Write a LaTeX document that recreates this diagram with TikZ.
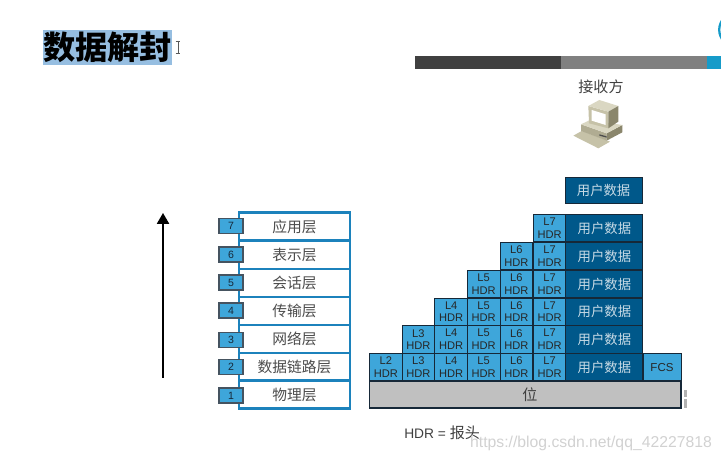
\documentclass[tikz,border=0pt]{standalone}
\usepackage{fontspec}
\usepackage{xcolor}
\usepackage{tikz}
\usetikzlibrary{arrows.meta}
\setmainfont{Liberation Sans}
\newfontfamily\cjk{Noto Sans CJK SC}
\definecolor{hdrblue}{RGB}{62,166,218}
\definecolor{datablue}{RGB}{0,88,138}
\definecolor{frameblue}{RGB}{28,130,188}
\definecolor{edgedark}{RGB}{22,40,56}
\definecolor{bitgray}{RGB}{192,192,192}
\definecolor{marklight}{RGB}{150,190,225}
\definecolor{pclight}{RGB}{218,215,194}
\definecolor{pcmid}{RGB}{198,194,168}
\definecolor{pcshade}{RGB}{176,172,146}
\definecolor{pcdark}{RGB}{138,134,108}
\tikzset{
  hdrcell/.style={draw=edgedark, fill=hdrblue, line width=0.6pt, inner sep=0pt, outer sep=0pt,
    minimum width=0.82cm, minimum height=0.69cm, align=center, text=black!85,
    font=\fontsize{7.9}{8.9}\selectfont},
  datacell/.style={draw=edgedark, fill=datablue, line width=0.6pt, inner sep=0pt, outer sep=0pt,
    minimum width=1.925cm, minimum height=0.69cm, text=white!78!datablue,
    font=\cjk\fontsize{9.5}{10}\selectfont},
  layerbox/.style={draw=frameblue, fill=white, line width=1.6pt, inner sep=0pt, outer sep=0pt,
    minimum width=2.775cm, minimum height=0.7cm, text=black!70,
    font=\cjk\fontsize{10.5}{11}\selectfont},
  numtag/.style={draw=edgedark!80, fill=hdrblue, line width=1pt, inner sep=0pt, outer sep=0pt,
    minimum width=0.6cm, minimum height=0.37cm, text=edgedark,
    font=\fontsize{7.5}{8}\selectfont},
  caption/.style={text=black!75, inner sep=0pt, font=\cjk\fontsize{10.7}{11}\selectfont}
}
\begin{document}
\begin{tikzpicture}
  \clip (0, 0) rectangle (18.025, 11.525);
  \useasboundingbox (0, 0) rectangle (18.025, 11.525);
  % Title with selection mark and cursor
  \node[fill=marklight, inner sep=0pt, minimum width=3.225cm, minimum height=0.875cm,
    font=\cjk\bfseries\fontsize{22.9}{23}\selectfont] (title) at (2.69, 10.34) {数据解封};
  \draw[black!65, line width=0.6pt] (4.45, 10.5) -- (4.45, 10.18);
  \draw[black!65, line width=0.6pt] (4.39, 10.5) -- (4.51, 10.5);
  \draw[black!65, line width=0.6pt] (4.39, 10.18) -- (4.51, 10.18);
  % Top bar
  \fill[black!75] (10.375, 9.8) rectangle (14.025, 10.125);
  \fill[black!50] (14.025, 9.8) rectangle (17.675, 10.125);
  \fill[frameblue!80!cyan] (17.675, 9.8) rectangle (18.025, 10.125);
  \draw[frameblue!80!cyan, line width=1.6pt] (18.4, 10.78) circle (0.42);
  % Receiver
  \node[caption] (receiver) at (15.025, 9.35) {接收方};
  \begin{scope}[shift={(14.125, 9.15)}, x=0.00833cm, y=-0.00833cm]
    \fill[pcmid] (25,122) -- (50,108) -- (135,140) -- (100,160) -- cycle;
    \fill[pcshade] (48,88) -- (125,115) -- (125,137) -- (48,108) -- cycle;
    \fill[pcdark] (125,115) -- (172,90) -- (172,112) -- (125,137) -- cycle;
    \fill[pclight] (48,88) -- (75,75) -- (172,90) -- (125,115) -- cycle;
    \fill[black!70] (103,118) -- (125,124) -- (125,128) -- (103,122) -- cycle;
    \fill[pcmid] (70,33) -- (130,50) -- (130,100) -- (72,85) -- cycle;
    \fill[pclight] (70,33) -- (103,15) -- (160,33) -- (130,50) -- cycle;
    \fill[pcdark] (130,50) -- (160,33) -- (160,80) -- (130,100) -- cycle;
    \fill[white] (80,45) -- (122,58) -- (122,90) -- (80,77) -- cycle;
  \end{scope}
  % Direction arrow
  \coordinate (arrowlow) at (4.075, 2.075);
  \coordinate (arrowhigh) at (4.075, 6.2);
  \draw[black, line width=1.3pt, -{Triangle[length=0.27cm, width=0.3cm]}] (arrowlow) -- (arrowhigh);
  % Layer names
  \node[layerbox] (layer7) at (7.3625, 5.86) {应用层};
  \node[layerbox] (layer6) at (7.3625, 5.15) {表示层};
  \node[layerbox] (layer5) at (7.3625, 4.45) {会话层};
  \node[layerbox] (layer4) at (7.3625, 3.75) {传输层};
  \node[layerbox] (layer3) at (7.3625, 3.05) {网络层};
  \node[layerbox] (layer2) at (7.3625, 2.35) {数据链路层};
  \node[layerbox] (layer1) at (7.3625, 1.66) {物理层};
  % Layer numbers
  \node[numtag] (num7) at (5.775, 5.875) {7};
  \node[numtag] (num6) at (5.775, 5.16) {6};
  \node[numtag] (num5) at (5.775, 4.46) {5};
  \node[numtag] (num4) at (5.775, 3.76) {4};
  \node[numtag] (num3) at (5.775, 3.025) {3};
  \node[numtag] (num2) at (5.775, 2.35) {2};
  \node[numtag] (num1) at (5.775, 1.64) {1};
  % Plain user data
  \node[datacell, minimum height=0.65cm] (data0) at (15.09, 6.775) {用户数据};
  % Row below it
  \node[hdrcell] (l7r6) at (13.74, 5.825) {L7\\HDR};
  \node[datacell] (data6) at (15.11, 5.825) {用户数据};
  % Next row
  \node[hdrcell] (l6r5) at (12.91, 5.125) {L6\\HDR};
  \node[hdrcell] (l7r5) at (13.74, 5.125) {L7\\HDR};
  \node[datacell] (data5) at (15.11, 5.125) {用户数据};
  % Next row
  \node[hdrcell] (l5r4) at (12.09, 4.425) {L5\\HDR};
  \node[hdrcell] (l6r4) at (12.91, 4.425) {L6\\HDR};
  \node[hdrcell] (l7r4) at (13.74, 4.425) {L7\\HDR};
  \node[datacell] (data4) at (15.11, 4.425) {用户数据};
  % Next row
  \node[hdrcell] (l4r3) at (11.28, 3.73) {L4\\HDR};
  \node[hdrcell] (l5r3) at (12.09, 3.73) {L5\\HDR};
  \node[hdrcell] (l6r3) at (12.91, 3.73) {L6\\HDR};
  \node[hdrcell] (l7r3) at (13.74, 3.73) {L7\\HDR};
  \node[datacell] (data3) at (15.11, 3.73) {用户数据};
  % Next row
  \node[hdrcell] (l3r2) at (10.46, 3.04) {L3\\HDR};
  \node[hdrcell] (l4r2) at (11.28, 3.04) {L4\\HDR};
  \node[hdrcell] (l5r2) at (12.09, 3.04) {L5\\HDR};
  \node[hdrcell] (l6r2) at (12.91, 3.04) {L6\\HDR};
  \node[hdrcell] (l7r2) at (13.74, 3.04) {L7\\HDR};
  \node[datacell] (data2) at (15.11, 3.04) {用户数据};
  % Frame row
  \node[hdrcell] (l2r1) at (9.645, 2.345) {L2\\HDR};
  \node[hdrcell] (l3r1) at (10.46, 2.345) {L3\\HDR};
  \node[hdrcell] (l4r1) at (11.28, 2.345) {L4\\HDR};
  \node[hdrcell] (l5r1) at (12.09, 2.345) {L5\\HDR};
  \node[hdrcell] (l6r1) at (12.91, 2.345) {L6\\HDR};
  \node[hdrcell] (l7r1) at (13.74, 2.345) {L7\\HDR};
  \node[datacell] (data1) at (15.11, 2.345) {用户数据};
  \node[hdrcell, minimum width=0.95cm, font=\fontsize{8.2}{9}\selectfont] (fcs) at (16.55, 2.345) {FCS};
  % Bits
  \node[draw=edgedark, fill=bitgray, line width=1pt, inner sep=0pt, outer sep=0pt,
    minimum width=7.785cm, minimum height=0.675cm] (bitbar) at (13.13, 1.66) {};
  \node[caption] (bitname) at (13.25, 1.66) {位};
  \fill[black!30] (17.1, 1.77) rectangle (17.18, 1.6);
  \fill[black!30] (17.1, 1.54) rectangle (17.18, 1.33);
  % Legend and page mark
  \node[caption, anchor=west] (legend) at (10.1, 0.7) {{\rmfamily\fontsize{9.8}{10}\selectfont HDR = }报头};
  \node[text=black!18, inner sep=0pt, font=\fontsize{11.2}{12}\selectfont] (pagemark) at (14.775, 0.45)
    {https://blog.csdn.net/qq\_42227818};
\end{tikzpicture}
\end{document}
